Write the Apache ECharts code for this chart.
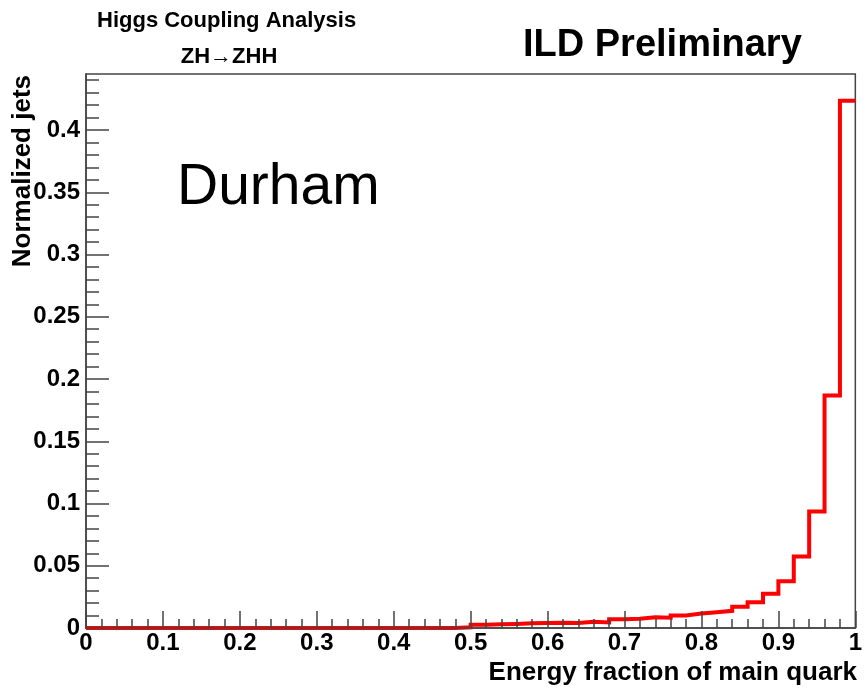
<!DOCTYPE html>
<html>
<head>
<meta charset="utf-8">
<script src="https://cdn.jsdelivr.net/npm/echarts@6/dist/echarts.min.js"></script>
<style>
  html, body { margin: 0; padding: 0; background: #ffffff; }
  #chart { width: 865px; height: 689px; }
</style>
</head>
<body>
<div id="chart"></div>
<script>
// Histogram: energy fraction carried by the main quark, 50 bins of width 0.02 on [0, 1]
const binWidth = 0.02;
const jetFraction = [
  0, 0, 0, 0, 0, 0, 0, 0, 0, 0,              // 0.00 - 0.18
  0, 0, 0, 0, 0, 0, 0, 0, 0, 0,              // 0.20 - 0.38
  0, 0, 0, 0,                                // 0.40 - 0.46
  0.0006, 0.0027, 0.0030, 0.0033, 0.0038,    // 0.48 - 0.56
  0.0040, 0.0042, 0.0040, 0.0050, 0.0044,    // 0.58 - 0.66
  0.0070, 0.0075, 0.0086, 0.0082, 0.0100,    // 0.68 - 0.76
  0.0116, 0.0127, 0.0138, 0.0170, 0.0207,    // 0.78 - 0.86
  0.0275, 0.0376, 0.0574, 0.0936, 0.1867,    // 0.88 - 0.96
  0.4236                                     // 0.98
];

// Axis tick labels
const xTickLabels = [0, 0.1, 0.2, 0.3, 0.4, 0.5, 0.6, 0.7, 0.8, 0.9, 1];
const yTickLabels = [0, 0.05, 0.1, 0.15, 0.2, 0.25, 0.3, 0.35, 0.4];
const yMinorTicks = [
  0.01, 0.02, 0.03, 0.04, 0.06, 0.07, 0.08, 0.09, 0.11, 0.12, 0.13, 0.14,
  0.16, 0.17, 0.18, 0.19, 0.21, 0.22, 0.23, 0.24, 0.26, 0.27, 0.28, 0.29,
  0.31, 0.32, 0.33, 0.34, 0.36, 0.37, 0.38, 0.39, 0.41, 0.42, 0.43, 0.44
];
const yMax = 0.445;

// Step outline points: each bin's low edge with its content, closed at x = 1
const stepPoints = jetFraction.map((v, i) => [+(i * binWidth).toFixed(2), v]);
stepPoints.push([1, jetFraction[jetFraction.length - 1]]);

const FONT = "'Liberation Sans', Arial, Helvetica, sans-serif";
const frameColor = '#444';

const chart = echarts.init(document.getElementById('chart'), null, { renderer: 'canvas' });

chart.setOption({
  animation: false,
  backgroundColor: '#ffffff',
  grid: {
    left: 86, right: 8, top: 74, bottom: 61,
    show: true, borderColor: frameColor, borderWidth: 1.5,
    backgroundColor: 'transparent', containLabel: false
  },
  xAxis: [{
    type: 'value', min: 0, max: 1, interval: 0.1,
    position: 'bottom', z: 5,
    axisLine: { show: true, onZero: false, lineStyle: { color: frameColor, width: 1.5 } },
    axisTick: { show: true, inside: true, length: 17, lineStyle: { color: frameColor, width: 1.5 } },
    minorTick: { show: true, splitNumber: 5, length: 9, lineStyle: { color: frameColor, width: 1.5 } },
    axisLabel: {
      show: true, customValues: xTickLabels, margin: 3,
      color: '#000', fontFamily: FONT, fontWeight: 'bold', fontSize: 24
    },
    splitLine: { show: false }
  }],
  yAxis: [{
    type: 'value', min: 0, max: yMax, position: 'left',
    axisLine: { show: true, onZero: false, lineStyle: { color: frameColor, width: 1.5 } },
    axisTick: { show: true, inside: true, length: 23, customValues: yTickLabels,
      lineStyle: { color: frameColor, width: 1.5 } },
    axisLabel: {
      show: true, customValues: yTickLabels, margin: 6, padding: [5, 0, 0, 0],
      color: '#000', fontFamily: FONT, fontWeight: 'bold', fontSize: 24
    },
    splitLine: { show: false }
  }, {
    type: 'value', min: 0, max: yMax, position: 'left', offset: 0,
    axisLine: { show: false },
    axisTick: { show: true, inside: true, length: 13, customValues: yMinorTicks,
      lineStyle: { color: frameColor, width: 1.5 } },
    axisLabel: { show: false },
    splitLine: { show: false }
  }],
  series: [{
    type: 'line',
    step: 'end',
    data: stepPoints,
    xAxisIndex: 0, yAxisIndex: 0,
    symbol: 'none',
    clip: true,
    lineStyle: { color: '#ff0000', width: 4, join: 'miter', cap: 'butt' },
    z: 2
  }],
  graphic: [
    { type: 'text', x: 97, y: 21,
      style: { text: 'Higgs Coupling Analysis', align: 'left', verticalAlign: 'middle',
        font: 'bold 22px ' + FONT, fill: '#000' } },
    { type: 'text', x: 229, y: 57,
      style: { text: 'ZH\u2192ZHH', align: 'center', verticalAlign: 'middle',
        font: 'bold 22px ' + FONT, fill: '#000' } },
    { type: 'text', x: 523, y: 46,
      style: { text: 'ILD Preliminary', align: 'left', verticalAlign: 'middle',
        font: 'bold 38px ' + FONT, fill: '#000' } },
    { type: 'text', x: 177, y: 188, z: 10,
      style: { text: 'Durham', align: 'left', verticalAlign: 'middle',
        font: 'normal 57px ' + FONT, fill: '#000' } },
    { type: 'text', x: 857, y: 673,
      style: { text: 'Energy fraction of main quark', align: 'right', verticalAlign: 'middle',
        font: 'bold 26px ' + FONT, fill: '#000' } },
    { type: 'text', x: 23, y: 75, rotation: Math.PI / 2,
      style: { text: 'Normalized jets', align: 'right', verticalAlign: 'middle',
        font: 'bold 26px ' + FONT, fill: '#000' } }
  ]
});
</script>
</body>
</html>
